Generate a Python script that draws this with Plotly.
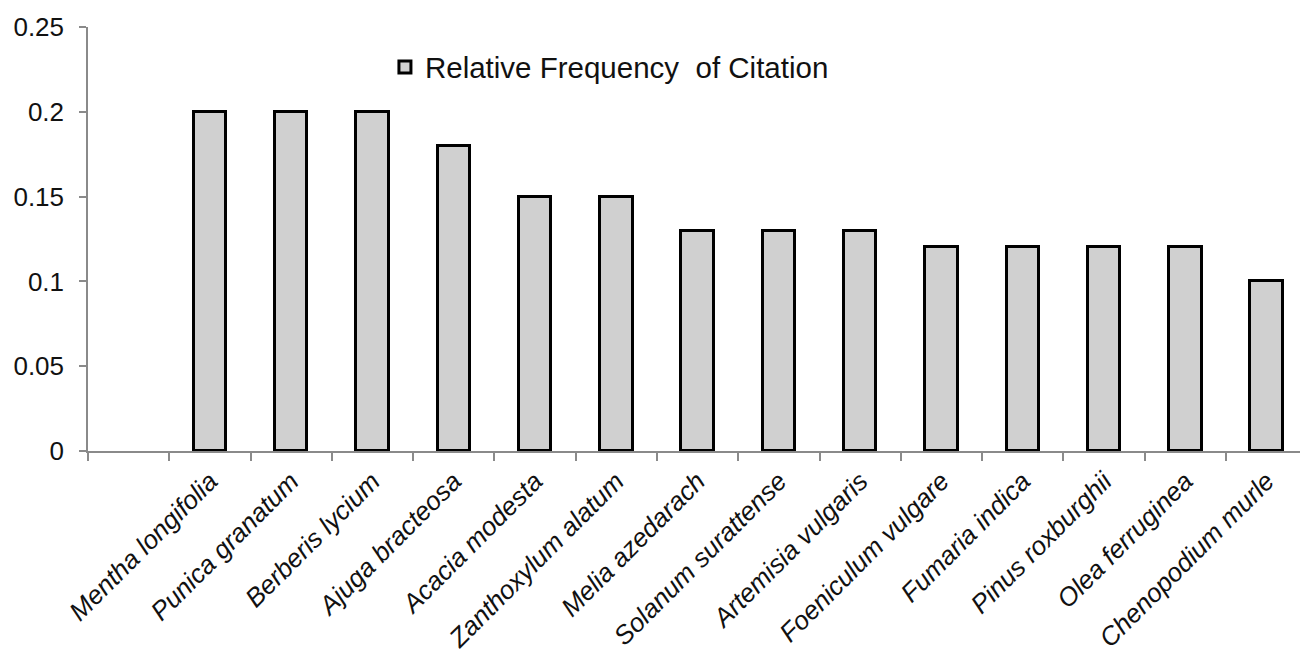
import plotly.graph_objects as go

# Species and their relative frequency of citation (RFC)
species = [
    "Mentha longifolia", "Punica granatum", "Berberis lycium", "Ajuga bracteosa",
    "Acacia modesta", "Zanthoxylum alatum", "Melia azedarach", "Solanum surattense",
    "Artemisia vulgaris", "Foeniculum vulgare", "Fumaria indica", "Pinus roxburghii",
    "Olea ferruginea", "Chenopodium murle",
]
rfc = [0.20, 0.20, 0.20, 0.18, 0.15, 0.15, 0.13, 0.13, 0.13, 0.12, 0.12, 0.12, 0.12, 0.10]
y_ticks = [0, 0.05, 0.1, 0.15, 0.2, 0.25]

positions = list(range(len(species)))
# category boundaries (one leading empty slot before the first species)
boundaries = [p - 0.5 for p in range(-1, len(species))]

FONT = "Liberation Sans, Arial, sans-serif"
AXIS_GREY = "#8a8a8a"

fig = go.Figure()
fig.add_trace(go.Bar(
    x=positions,
    y=rfc,
    width=0.4,
    name="Relative Frequency\u00a0\u00a0of Citation",
    marker=dict(color="#d0d0d0", line=dict(color="black", width=3)),
))

fig.update_layout(
    width=1300,
    height=661,
    margin=dict(l=88, r=0, t=27, b=210, autoexpand=False),
    plot_bgcolor="white",
    paper_bgcolor="white",
    font=dict(family=FONT, size=26, color="#111111"),
    bargap=0,
    showlegend=True,
    legend=dict(
        x=0.245, y=0.905, xanchor="left", yanchor="middle",
        bgcolor="rgba(0,0,0,0)", font=dict(size=29.5, family=FONT),
        itemwidth=30,
    ),
    xaxis=dict(
        range=[-1.5, 13.41],
        automargin=False,
        tickmode="array",
        tickvals=positions,
        ticktext=[f"<i>{s}</i>" for s in species],
        tickangle=-45,
        ticks="",
        ticklabelstandoff=3,
        showgrid=False,
        zeroline=False,
        showline=True,
        linecolor=AXIS_GREY,
        linewidth=1.5,
        tickfont=dict(size=26, family=FONT),
        minor=dict(
            tickmode="array",
            tickvals=boundaries,
            ticks="outside",
            ticklen=8,
            tickwidth=1.5,
            tickcolor=AXIS_GREY,
            showgrid=False,
        ),
    ),
    yaxis=dict(
        range=[0, 0.25],
        automargin=False,
        tickmode="array",
        tickvals=y_ticks,
        ticktext=[f"{v:g}" for v in y_ticks],
        ticks="outside",
        ticklen=7,
        tickwidth=1.5,
        tickcolor=AXIS_GREY,
        ticklabelstandoff=10,
        showgrid=False,
        zeroline=False,
        showline=True,
        linecolor=AXIS_GREY,
        linewidth=1.5,
        tickfont=dict(size=26, family=FONT),
    ),
)

fig.write_html("out.html")
